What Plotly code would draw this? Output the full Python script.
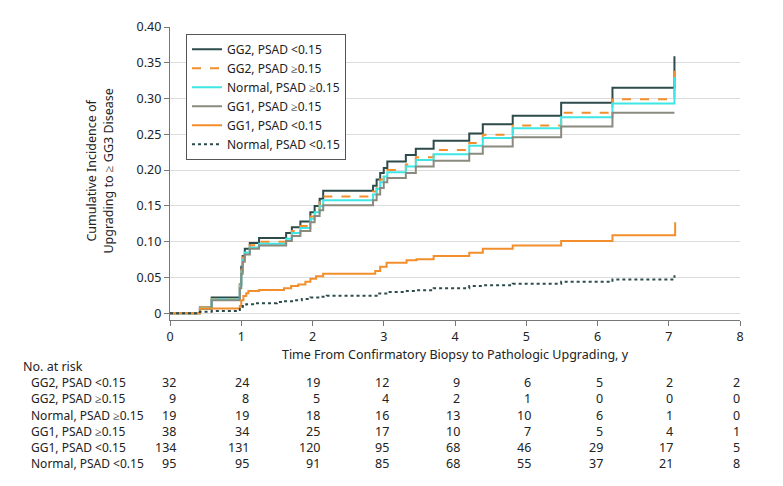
import plotly.graph_objects as go

# ---- data ----
series_names = ["GG2, PSAD <0.15", "GG2, PSAD ≥0.15", "Normal, PSAD ≥0.15",
                "GG1, PSAD ≥0.15", "GG1, PSAD <0.15", "Normal, PSAD <0.15"]

gg2_low_t = [0, 0.42, 0.585, 0.98, 1.0, 1.02, 1.05, 1.12, 1.25, 1.63, 1.71, 1.83, 1.97, 2.03, 2.1, 2.15,
             2.85, 2.9, 2.95, 3.0, 3.05, 3.31, 3.45, 3.70, 4.2, 4.39, 4.81, 5.49, 6.21, 7.08]
gg2_low_v = [0, 0.008, 0.022, 0.04, 0.065, 0.08, 0.09, 0.098, 0.105, 0.112, 0.12, 0.128, 0.141, 0.15, 0.16, 0.171,
             0.178, 0.187, 0.196, 0.203, 0.212, 0.221, 0.230, 0.241, 0.251, 0.264, 0.276, 0.294, 0.315, 0.359]

gg2_high_t = gg2_low_t
gg2_high_v = [0, 0.008, 0.02, 0.04, 0.06, 0.078, 0.088, 0.095, 0.1, 0.107, 0.115, 0.122, 0.135, 0.145, 0.155, 0.163,
              0.17, 0.178, 0.187, 0.195, 0.2, 0.208, 0.218, 0.228, 0.238, 0.2495, 0.2625, 0.28, 0.299, 0.339]

norm_high_t = gg2_low_t
norm_high_v = [0, 0.007, 0.019, 0.038, 0.058, 0.075, 0.085, 0.092, 0.097, 0.104, 0.112, 0.119, 0.132, 0.141, 0.15, 0.158,
               0.166, 0.174, 0.183, 0.191, 0.197, 0.205, 0.214, 0.222, 0.234, 0.245, 0.2585, 0.274, 0.293, 0.33]

gg1_high_t = gg2_low_t
gg1_high_v = [0, 0.006, 0.018, 0.035, 0.055, 0.072, 0.082, 0.09, 0.0945, 0.101, 0.108, 0.115, 0.127, 0.136, 0.144, 0.151,
              0.158, 0.166, 0.175, 0.183, 0.189, 0.196, 0.205, 0.213, 0.223, 0.233, 0.246, 0.261, 0.28, 0.28]

gg1_low_t = [0, 0.42, 0.98, 1.0, 1.03, 1.07, 1.1, 1.25, 1.6, 1.7, 1.8, 1.9, 1.97, 2.05, 2.15,
             2.88, 2.95, 3.04, 3.32, 3.46, 3.70, 4.2, 4.39, 4.81, 5.49, 6.21, 7.09]
gg1_low_v = [0, 0.0065, 0.01, 0.018, 0.024, 0.028, 0.031, 0.0325, 0.035, 0.038, 0.04, 0.044, 0.048, 0.0515, 0.055,
             0.059, 0.065, 0.0705, 0.074, 0.0755, 0.08, 0.0845, 0.09, 0.0945, 0.101, 0.109, 0.127]

norm_low_t = [0, 0.42, 0.585, 0.98, 1.02, 1.07, 1.2, 1.5, 1.6, 1.75, 1.85, 1.97, 2.1, 2.2,
              2.9, 3.05, 3.3, 3.45, 3.7, 4.2, 4.39, 4.81, 5.49, 6.21, 7.08]
norm_low_v = [0, 0.002, 0.003, 0.006, 0.01, 0.0125, 0.014, 0.0155, 0.0167, 0.018, 0.02, 0.022, 0.023, 0.0244,
              0.0276, 0.0298, 0.031, 0.032, 0.0348, 0.038, 0.039, 0.041, 0.0438, 0.047, 0.0529]

risk_times = [0, 1, 2, 3, 4, 5, 6, 7, 8]
risk_gg2_low = [32, 24, 19, 12, 9, 6, 5, 2, 2]
risk_gg2_high = [9, 8, 5, 4, 2, 1, 0, 0, 0]
risk_norm_high = [19, 19, 18, 16, 13, 10, 6, 1, 0]
risk_gg1_high = [38, 34, 25, 17, 10, 7, 5, 4, 1]
risk_gg1_low = [134, 131, 120, 95, 68, 46, 29, 17, 5]
risk_norm_low = [95, 95, 91, 85, 68, 55, 37, 21, 8]

y_ticks = [0, 0.05, 0.10, 0.15, 0.20, 0.25, 0.30, 0.35, 0.40]
y_tick_text = ["0", "0.05", "0.10", "0.15", "0.20", "0.25", "0.30", "0.35", "0.40"]
x_ticks = [0, 1, 2, 3, 4, 5, 6, 7, 8]

# ---- styling ----
FONT = "Noto Sans"
FS = 12.5
FS_SMALL = 12
TXT = "#222"
DARK = "#2d4b4b"
ORANGE = "#f28e2b"
CYAN = "#3fe6e6"
GRAY = "#8a8a7e"

curves = [
    (gg2_low_t, gg2_low_v, DARK, "solid"),
    (gg2_high_t, gg2_high_v, ORANGE, "dash"),
    (norm_high_t, norm_high_v, CYAN, "solid"),
    (gg1_high_t, gg1_high_v, GRAY, "solid"),
    (gg1_low_t, gg1_low_v, ORANGE, "solid"),
    (norm_low_t, norm_low_v, DARK, "dot"),
]

fig = go.Figure()
for name, (t, v, col, dash) in zip(series_names, curves):
    fig.add_trace(go.Scatter(x=t, y=v, mode="lines", name=name,
                             line=dict(color=col, width=2, dash=dash, shape="hv")))

W, H = 783, 486
OFF = 8  # page body margin
PX0, PX1, PY0, PY1 = 170, 740, 18, 320  # plot area in page pixels
L = PX0 - OFF
T = PY0 - OFF
R = W - (PX1 - OFF)
B = H - (PY1 - OFF)
pw = PX1 - PX0
ph = PY1 - PY0

def ypaper(px):
    return (PY1 - px) / ph

def xpaper(px):
    return (px - PX0) / pw

ann = []
ann.append(dict(text="Cumulative Incidence of<br>Upgrading to ≥ GG3 Disease", textangle=-90,
                x=xpaper(100), y=ypaper(166), xref="paper", yref="paper",
                xanchor="center", yanchor="middle", showarrow=False,
                font=dict(family=FONT, size=FS, color=TXT)))
ann.append(dict(text="No. at risk", x=xpaper(21), y=ypaper(368), xref="paper", yref="paper",
                xanchor="left", yanchor="middle", showarrow=False,
                font=dict(family=FONT, size=FS, color=TXT)))

risk_rows = [risk_gg2_low, risk_gg2_high, risk_norm_high, risk_gg1_high, risk_gg1_low, risk_norm_low]
row_y = [384, 401, 418, 434.5, 451, 468]
col_shift = [8, 10, 9, 7, 7, 7, 7, 6, 2]
for name, row, ry in zip(series_names, risk_rows, row_y):
    ann.append(dict(text=name, x=xpaper(29), y=ypaper(ry), xref="paper", yref="paper",
                    xanchor="left", yanchor="middle", showarrow=False,
                    font=dict(family=FONT, size=FS_SMALL, color=TXT)))
    for tt, n, sh in zip(risk_times, row, col_shift):
        ann.append(dict(text=str(n), x=tt, y=ypaper(ry), xref="x", yref="paper",
                        xanchor="right", yanchor="middle", xshift=sh, showarrow=False,
                        font=dict(family=FONT, size=FS, color=TXT)))

fig.update_layout(
    width=W, height=H,
    margin=dict(l=L, r=R, t=T, b=B),
    plot_bgcolor="white", paper_bgcolor="white",
    font=dict(family=FONT, size=FS, color=TXT),
    annotations=ann,
    legend=dict(x=xpaper(186), y=ypaper(25), xanchor="left", yanchor="top",
                bgcolor="white", bordercolor="#555", borderwidth=1,
                font=dict(family=FONT, size=FS_SMALL, color=TXT),
                tracegroupgap=0, itemwidth=30),
    xaxis=dict(range=[0, 8], tickvals=x_ticks, showgrid=False, zeroline=False,
               showline=True, linecolor="#777", linewidth=1.2,
               ticks="outside", ticklen=5, tickcolor="#777",
               title=dict(text="Time From Confirmatory Biopsy to Pathologic Upgrading, y",
                          standoff=6, font=dict(family=FONT, size=FS, color=TXT))),
    yaxis=dict(range=[-0.0095, 0.40], tickvals=y_ticks, ticktext=y_tick_text,
               showgrid=True, gridcolor="#dcdcdc", gridwidth=1, zeroline=False,
               showline=True, linecolor="#777", linewidth=1.2,
               ticks="outside", ticklen=5, tickcolor="#777"),
)

fig.write_html("out.html")
